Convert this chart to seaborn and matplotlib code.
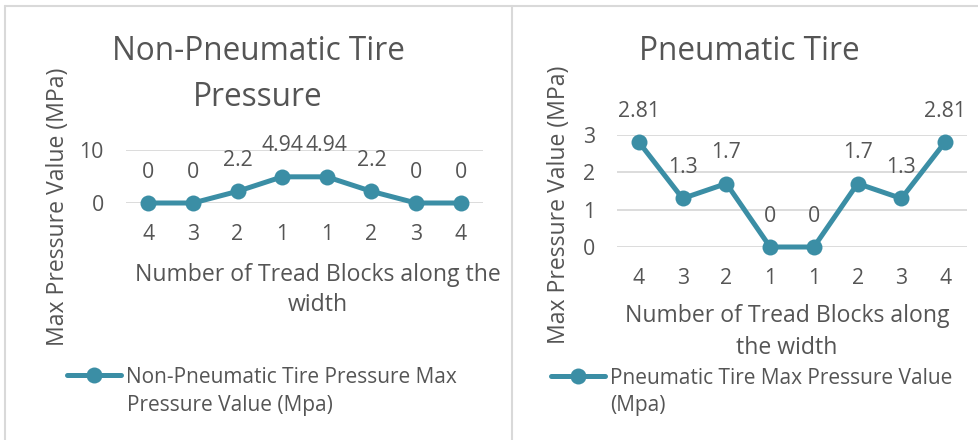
import matplotlib
matplotlib.use("Agg")
import matplotlib.pyplot as plt
from matplotlib.lines import Line2D
import seaborn as sns
import pandas as pd

# Tread block positions across the tire width (outer -> centre -> outer)
tread_blocks = ["4", "3", "2", "1", "1", "2", "3", "4"]
non_pneumatic_values = [0, 0, 2.2, 4.94, 4.94, 2.2, 0, 0]
pneumatic_values = [2.81, 1.3, 1.7, 0, 0, 1.7, 1.3, 2.81]

non_pneumatic_label = ["Non-Pneumatic Tire Pressure Max", "Pressure Value (Mpa)"]
pneumatic_label = ["Pneumatic Tire Max Pressure Value", "(Mpa)"]

sns.set_theme(style="white")
plt.rcParams["font.family"] = ["Open Sans", "DejaVu Sans"]

TEAL = "#3B8EA5"
TEXT = "#555555"
GRID = "#D9D9D9"
W, H = 979, 440

TITLE_FS = 22.7
AXLABEL_FS = 16.6
TICK_FS = 15.3
DATA_FS = 15.3
LEGEND_FS = 15.0
LW = 3.6
MS = 11.5

fig = plt.figure(figsize=(W / 100, H / 100), dpi=100)


def fx(px):
    return px / W


def fy(py):
    return 1 - py / H


def draw_panel(rect, values, yticks, label):
    ax = fig.add_axes(rect)
    df = pd.DataFrame({"pos": range(len(values)), "value": values, "series": label})
    sns.lineplot(data=df, x="pos", y="value", hue="series", palette=[TEAL],
                 marker="o", markersize=MS, markeredgewidth=0, linewidth=LW,
                 ax=ax, legend=False)
    ax.set_xlim(-0.5, len(values) - 0.5)
    ax.set_ylim(yticks[0], yticks[-1])
    ax.set_xticks(range(len(values)))
    ax.set_xticklabels(tread_blocks)
    ax.set_yticks(yticks)
    ax.set_xlabel("")
    ax.set_ylabel("")
    for s in ax.spines.values():
        s.set_visible(False)
    ax.yaxis.grid(True, color=GRID, linewidth=1.3)
    ax.set_axisbelow(True)
    ax.tick_params(axis="both", length=0, labelsize=TICK_FS, labelcolor=TEXT)
    ax.tick_params(axis="x", pad=15)
    ax.tick_params(axis="y", pad=16)
    for i, v in enumerate(values):
        ax.annotate(f"{v:g}", (i, v), xytext=(0, 31), textcoords="offset pixels",
                    ha="center", va="center", fontsize=DATA_FS, color=TEXT,
                    annotation_clip=False)
    for line in ax.lines:
        line.set_clip_on(False)
    return ax


ax1 = draw_panel([fx(126), fy(203), fx(357), (203 - 150) / H],
                 non_pneumatic_values, [0, 10], " ".join(non_pneumatic_label))
ax2 = draw_panel([fx(617), fy(247), fx(350), (247 - 135) / H],
                 pneumatic_values, [0, 1, 2, 3], " ".join(pneumatic_label))

# Titles
fig.text(fx(258), fy(52), "Non-Pneumatic Tire", ha="center", va="center", fontsize=TITLE_FS, color=TEXT)
fig.text(fx(258), fy(97), "Pressure", ha="center", va="center", fontsize=TITLE_FS, color=TEXT)
fig.text(fx(749), fy(52), "Pneumatic Tire", ha="center", va="center", fontsize=TITLE_FS, color=TEXT)

# Axis titles
fig.text(fx(58), fy(207), "Max Pressure Value (MPa)", rotation=90, ha="center", va="center",
         fontsize=AXLABEL_FS, color=TEXT)
fig.text(fx(559), fy(205), "Max Pressure Value (MPa)", rotation=90, ha="center", va="center",
         fontsize=AXLABEL_FS, color=TEXT)
fig.text(fx(318), fy(275), "Number of Tread Blocks along the", ha="center", va="center",
         fontsize=AXLABEL_FS, color=TEXT)
fig.text(fx(318), fy(305), "width", ha="center", va="center", fontsize=AXLABEL_FS, color=TEXT)
fig.text(fx(787), fy(316), "Number of Tread Blocks along", ha="center", va="center",
         fontsize=AXLABEL_FS, color=TEXT)
fig.text(fx(787), fy(348), "the width", ha="center", va="center", fontsize=AXLABEL_FS, color=TEXT)


# Legends: marker handle beside the first line, continuation line below
def add_legend(ax, x_handle, x_text, y_first, y_second, lines):
    handle = Line2D([], [], color=TEAL, linewidth=LW, marker="o", markersize=MS,
                    markeredgewidth=0)
    leg = ax.legend([handle], [lines[0]], loc="center left",
                    bbox_to_anchor=(fx(x_handle), fy(y_first)), bbox_transform=fig.transFigure,
                    frameon=False, fontsize=LEGEND_FS, handlelength=2.6, handletextpad=0.22,
                    borderpad=0, borderaxespad=0)
    for t in leg.get_texts():
        t.set_color(TEXT)
    fig.text(fx(x_text), fy(y_second), lines[1], ha="left", va="center",
             fontsize=LEGEND_FS, color=TEXT)


add_legend(ax1, 67, 127, 377, 405, non_pneumatic_label)
add_legend(ax2, 551, 610, 378, 405, pneumatic_label)

# Chart-area borders
for xs, ys in [((5, W), (6, 6)), ((5, 5), (6, H)), ((512, 512), (6, H))]:
    fig.add_artist(Line2D([fx(x) for x in xs], [fy(y) for y in ys], color=GRID,
                          linewidth=1.5, transform=fig.transFigure))

fig.savefig("out.png", dpi=100, facecolor="white")
